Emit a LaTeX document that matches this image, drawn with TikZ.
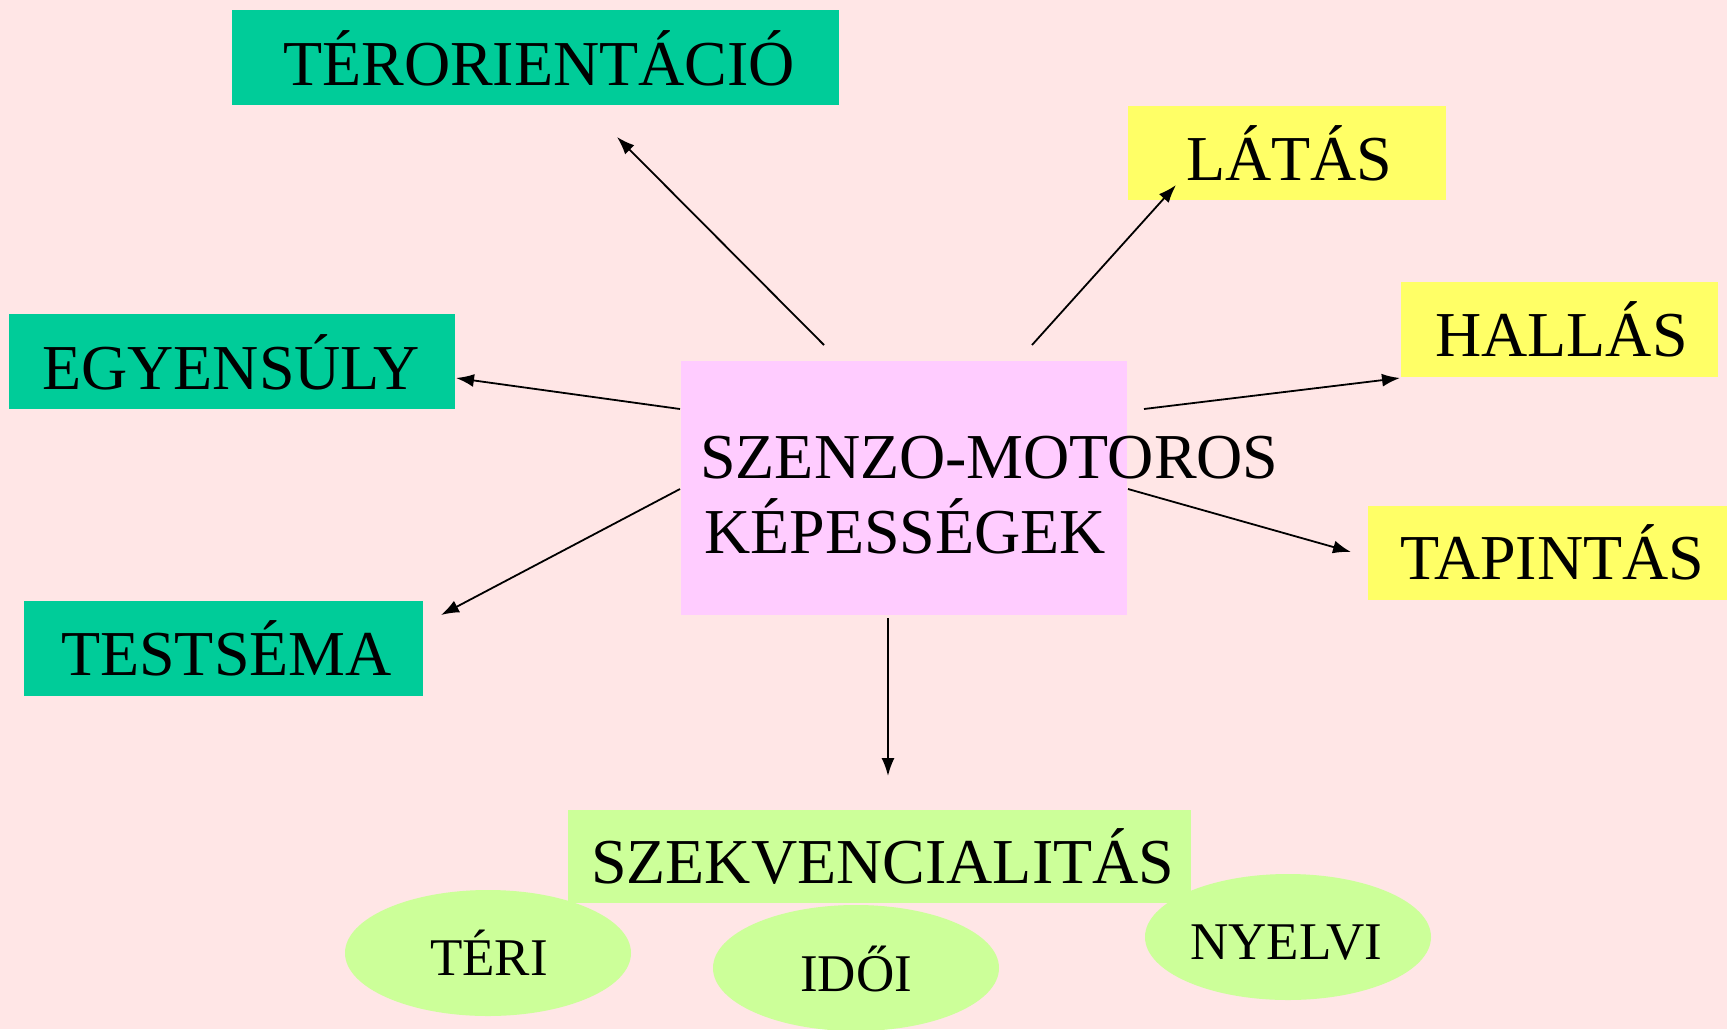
\documentclass[tikz,border=0pt]{standalone}
\usepackage{fontspec}
\setmainfont{Liberation Serif}
\usetikzlibrary{arrows.meta,shapes.geometric}
\definecolor{bgpink}{RGB}{255,230,230}
\definecolor{tealbox}{RGB}{0,204,153}
\definecolor{yellowbox}{RGB}{255,255,102}
\definecolor{centerbox}{RGB}{255,204,255}
\definecolor{greenbox}{RGB}{204,255,153}
\begin{document}
\begin{tikzpicture}[x=1pt,y=-1pt,
  box/.style={fill=#1, draw=none, inner sep=0pt, rectangle},
  ell/.style={fill=greenbox, draw=none, ellipse, inner sep=0pt, minimum width=286pt, minimum height=126pt},
  lbl/.style={inner sep=0pt, anchor=base west, font=\fontsize{64}{64}\selectfont},
  slbl/.style={inner sep=0pt, anchor=base west, font=\fontsize{53}{53}\selectfont},
  conn/.style={line width=1.8pt, -{Latex[length=18pt,width=13pt]}}]
\fill[bgpink] (0,0) rectangle (1727,1029);
\useasboundingbox (0,0) rectangle (1727,1029);
% boxes
\node[box=tealbox, minimum width=607pt, minimum height=95pt] (terbox) at (535.5,57.5) {};
\node[box=yellowbox, minimum width=318pt, minimum height=94pt] (latbox) at (1287,153) {};
\node[box=yellowbox, minimum width=317pt, minimum height=95pt] (halbox) at (1559.5,329.5) {};
\node[box=yellowbox, minimum width=359pt, minimum height=94pt] (tapbox) at (1547.5,553) {};
\node[box=tealbox, minimum width=446pt, minimum height=95pt] (egybox) at (232,361.5) {};
\node[box=tealbox, minimum width=399pt, minimum height=95pt] (tesbox) at (223.5,648.5) {};
\node[box=centerbox, minimum width=446pt, minimum height=254pt] (cenbox) at (904,488) {};
\node[box=greenbox, minimum width=623pt, minimum height=93pt] (szebox) at (879.5,856.5) {};
\node[ell] (teri) at (488,953) {};
\node[ell] (idoi) at (856,968) {};
\node[ell] (nyel) at (1288,937) {};
% labels
\node[lbl] (tert) at (283,85) {TÉRORIENTÁCIÓ};
\node[lbl] (latt) at (1186,180) {LÁTÁS};
\node[lbl] (halt) at (1435,356) {HALLÁS};
\node[lbl] (tapt) at (1400,579) {TAPINTÁS};
\node[lbl] (egyt) at (42,389) {EGYENSÚLY};
\node[lbl] (test) at (61,675) {TESTSÉMA};
\node[lbl] (cent1) at (700,478) {SZENZO-MOTOROS};
\node[lbl] (cent2) at (704,553) {KÉPESSÉGEK};
\node[lbl] (szet) at (591,883) {SZEKVENCIALITÁS};
\node[slbl] (terit) at (430,975) {TÉRI};
\node[slbl] (idoit) at (800,991) {IDŐI};
\node[slbl] (nyelt) at (1190,959) {NYELVI};
% connector ends
\coordinate (s1) at (824,345); \coordinate (e1) at (617,137);
\coordinate (s2) at (1032,345); \coordinate (e2) at (1176,185);
\coordinate (s3) at (680,409); \coordinate (e3) at (456,378);
\coordinate (s4) at (1144,409); \coordinate (e4) at (1400,378);
\coordinate (s5) at (1128,489); \coordinate (e5) at (1351,552);
\coordinate (s6) at (680,489); \coordinate (e6) at (441,615);
\coordinate (s7) at (888,618); \coordinate (e7) at (888,776);
\draw[conn] (s1) -- (e1);
\draw[conn] (s2) -- (e2);
\draw[conn] (s3) -- (e3);
\draw[conn] (s4) -- (e4);
\draw[conn] (s5) -- (e5);
\draw[conn] (s6) -- (e6);
\draw[conn] (s7) -- (e7);
\end{tikzpicture}
\end{document}
